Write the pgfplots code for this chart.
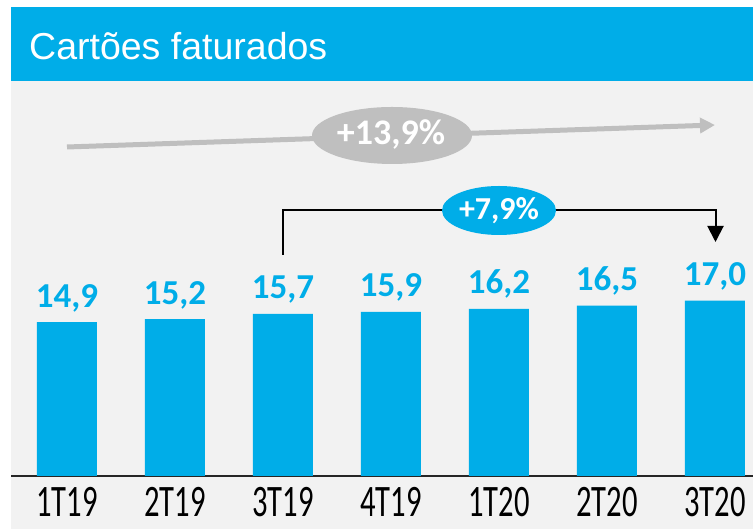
\documentclass[border=0pt]{standalone}
\usepackage{pgfplots}
\pgfplotsset{compat=1.18}
\usepackage{fontspec}
\setmainfont{Carlito}
\newfontfamily\arialf{Liberation Sans}
\usetikzlibrary{arrows.meta}
\definecolor{cblue}{RGB}{0,173,232}
\definecolor{cbg}{RGB}{242,242,242}
\definecolor{cgray}{RGB}{191,191,191}
\newcommand\lab[1]{\scalebox{0.68}[1]{#1}}
\begin{document}
\begin{tikzpicture}[x=1pt,y=1pt]
\fill[white] (0,0) rectangle (753,529);
\fill[cbg] (11,0) rectangle (753,448);
\fill[cblue] (11,448) rectangle (753,522);
\node[anchor=base west, inner sep=0, text=white, font=\arialf\fontsize{37.5}{40}\selectfont] at (29,469) {Cartões faturados};
\begin{axis}[
  scale only axis, width=742pt, height=395pt,
  at={(11pt,53pt)}, anchor=south west,
  xmin=-0.5185, xmax=6.352, ymin=0, ymax=38.28,
  clip=false,
  axis x line*=bottom, axis y line=none,
  x axis line style={line width=2pt, color=black!85, -},
  xtick={0,1,2,3,4,5,6},
  xticklabels={\lab{1T19},\lab{2T19},\lab{3T19},\lab{4T19},\lab{1T20},\lab{2T20},\lab{3T20}},
  major tick length=0,
  xticklabel style={anchor=base, yshift=-41pt, inner sep=0, font=\fontsize{45}{45}\selectfont, text=black},
  ybar, bar width=60pt,
  nodes near coords={\pgfmathprintnumber[fixed,fixed zerofill,precision=1,use comma,assume math mode=true]{\pgfplotspointmeta}},
  every node near coord/.append style={anchor=base, yshift=15pt, inner sep=0, font=\bfseries\fontsize{35}{35}\selectfont, text=cblue},
]
\addplot[fill=cblue, draw=none] coordinates {(0,14.9) (1,15.2) (2,15.7) (3,15.9) (4,16.2) (5,16.5) (6,17.0)};
\end{axis}
% growth annotations
\draw[cgray, line width=5pt, -{Triangle[length=15pt,width=15pt]}] (67,382) -- (715,404);
\fill[cgray] (392,393.5) ellipse [x radius=80, y radius=28.5];
\node[anchor=base, inner sep=0, text=white, font=\bfseries\fontsize{36}{36}\selectfont] at (391,384) {+13,9\%};
\draw[black, line width=2pt, -{Triangle[length=16pt,width=16pt]}] (283,274) -- (283,319) -- (715.5,319) -- (715.5,287);
\fill[cblue] (499,318.5) ellipse [x radius=57, y radius=24.5];
\node[anchor=base, inner sep=0, text=white, font=\bfseries\fontsize{32}{32}\selectfont] at (499,309) {+7,9\%};
\pgfresetboundingbox
\useasboundingbox (0,0) rectangle (753,529);
\end{tikzpicture}
\end{document}
